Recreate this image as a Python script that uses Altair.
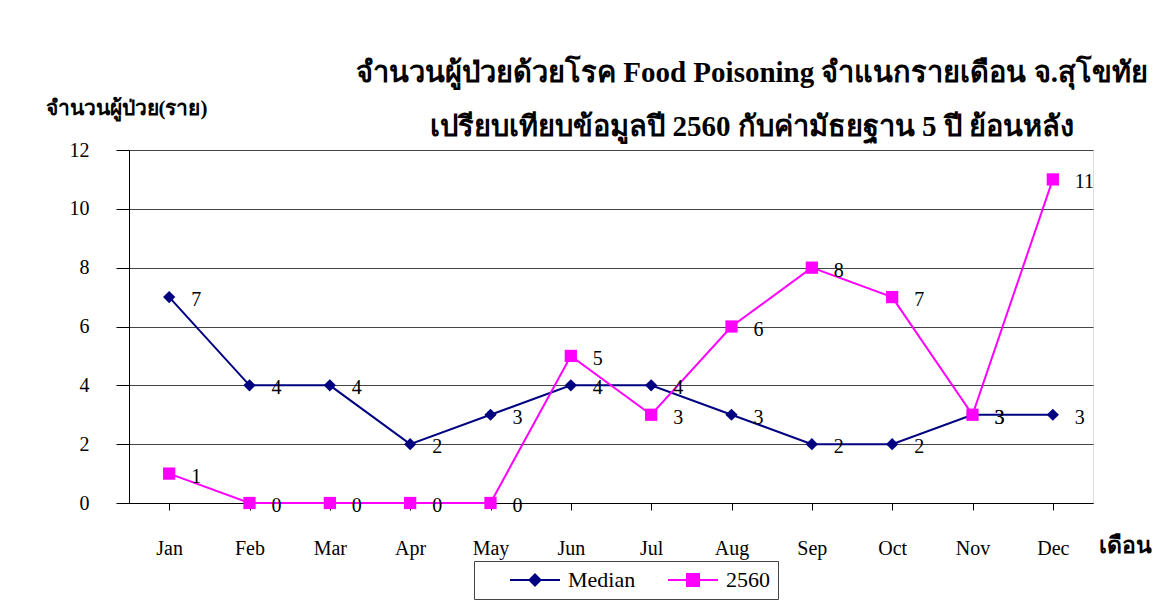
import altair as alt
import pandas as pd

months = ["Jan", "Feb", "Mar", "Apr", "May", "Jun", "Jul", "Aug", "Sep", "Oct", "Nov", "Dec"]
median = [7, 4, 4, 2, 3, 4, 4, 3, 2, 2, 3, 3]
y2560 = [1, 0, 0, 0, 0, 5, 3, 6, 8, 7, 3, 11]
series = ["Median", "2560"]
colors = ["#000080", "#FF00FF"]

title_line1 = "จำนวนผู้ป่วยด้วยโรค Food Poisoning จำแนกรายเดือน  จ.สุโขทัย"
title_line2 = "เปรียบเทียบข้อมูลปี 2560 กับค่ามัธยฐาน 5 ปี ย้อนหลัง"
y_title = "จำนวนผู้ป่วย(ราย)"
x_title = "เดือน"

rows = []
for s, vals in zip(series, [median, y2560]):
    for m, v in zip(months, vals):
        rows.append({"month": m, "value": v, "series": s})
df = pd.DataFrame(rows)

FONT = "Liberation Serif, Times New Roman, serif"

x_enc = alt.X(
    "month:N", sort=months,
    scale=alt.Scale(type="point", padding=0.5),
    axis=alt.Axis(
        title=x_title, labelAngle=0, labelFont=FONT, labelFontSize=20, labelColor="black",
        labelPadding=28, tickSize=7, tickColor="black", domainColor="black", grid=False,
        titleX=969, titleY=42, titleAlign="left", titleBaseline="middle", titleAngle=0,
        titleFont=FONT, titleFontSize=23, titleFontWeight="bold", titleColor="black",
    ),
)
y_enc = alt.Y(
    "value:Q",
    scale=alt.Scale(domain=[0, 12], nice=False),
    axis=alt.Axis(
        title=y_title, values=[0, 2, 4, 6, 8, 10, 12], labelFont=FONT, labelFontSize=20,
        labelColor="black", labelPadding=27, tickSize=13, tickColor="black",
        domainColor="black", grid=True, gridColor="#444", gridWidth=1,
        titleX=-84, titleY=-42, titleAlign="left", titleBaseline="middle", titleAngle=0,
        titleFont=FONT, titleFontSize=21, titleFontWeight="bold", titleColor="black",
    ),
)

# legend symbols: a line with the marker in its middle (symbol size 196 -> 7px per unit)
diamond_path = "M2.43,0H9.57M6,-0.79L6.79,0L6,0.79L5.21,0Z"
square_path = "M2.43,0H9.57M5.14,-0.86H6.86V0.86H5.14Z"

legend = alt.Legend(
    title=None, orient="none", legendX=345, legendY=411, direction="horizontal",
    labelFont=FONT, labelFontSize=22, labelColor="black", symbolSize=196,
    labelOffset=64, columnPadding=4, padding=8, strokeColor="#444", fillColor="white",
    symbolStrokeWidth=2, symbolOpacity=1, symbolFillColor="#000080", symbolStrokeColor="#000080",
    labelExpr="datum.label == '2560' ? datum.label + '\u00a0\u00a0\u00a0\u00a0' : datum.label",
)
color_enc = alt.Color("series:N", scale=alt.Scale(domain=series, range=colors), legend=None)

base = alt.Chart(df).encode(x=x_enc, y=y_enc)

lines = base.mark_line(strokeWidth=2).encode(color=color_enc)
points = base.mark_point(filled=True, size=150, opacity=1).encode(
    color=color_enc,
    shape=alt.Shape("series:N", scale=alt.Scale(domain=series, range=["diamond", "square"]), legend=None),
)
legend_layer = base.mark_point(opacity=0).encode(
    fill=alt.Fill("series:N", scale=alt.Scale(domain=series, range=colors), legend=legend),
    stroke=alt.Stroke("series:N", scale=alt.Scale(domain=series, range=colors), legend=legend),
    shape=alt.Shape("series:N", scale=alt.Scale(domain=series, range=[diamond_path, square_path]), legend=legend),
)
labels = base.mark_text(align="left", baseline="middle", dx=22, dy=3, font=FONT, fontSize=20, color="black").encode(
    text="value:Q"
)

chart = alt.layer(lines, points, legend_layer, labels).resolve_scale(
    shape="independent", fill="independent", stroke="independent"
).properties(
    width=964, height=353,
    autosize="none",
    padding={"left": 121, "top": 142, "right": 70, "bottom": 100},
    title=alt.TitleParams(
        text=title_line1, subtitle=title_line2, anchor="middle", dx=141, dy=51,
        font=FONT, fontSize=29, fontWeight="bold", color="black",
        subtitleFont=FONT, subtitleFontSize=29, subtitleFontWeight="bold", subtitleColor="black",
        subtitlePadding=25, offset=6,
    ),
).configure_view(stroke=None).configure(background="white")

chart.save("out.html", embed_options={"renderer": "svg", "actions": False})
